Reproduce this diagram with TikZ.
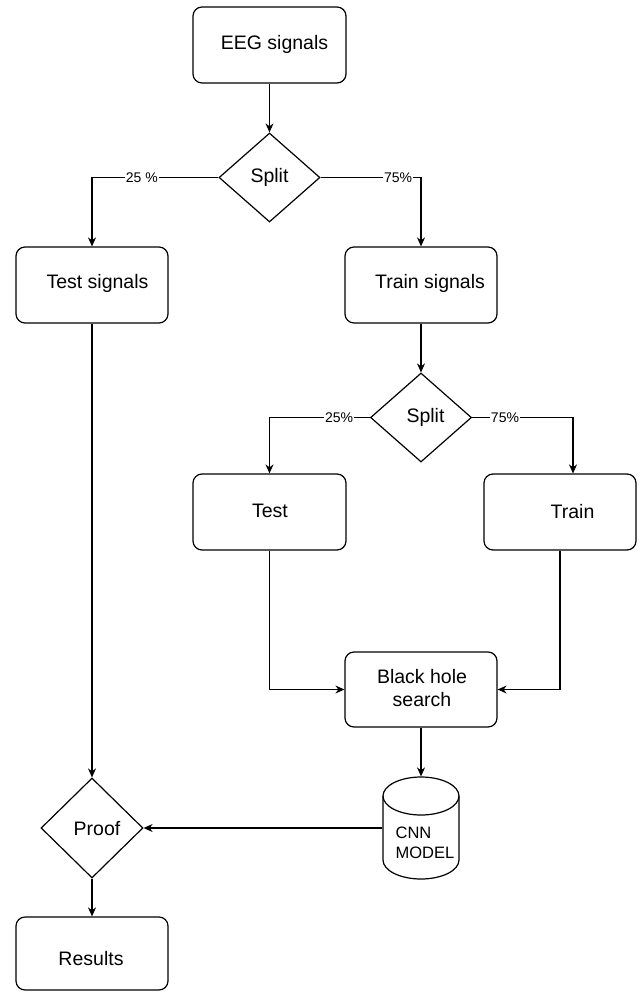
\documentclass[tikz,border=0pt]{standalone}
\usepackage{fontspec}
\setmainfont{Liberation Sans}
\usetikzlibrary{shapes.geometric,arrows.meta}
\begin{document}
\begin{tikzpicture}[x=1pt,y=-1pt,
  line width=1.2pt,
  box/.style={draw, rounded corners=9pt, minimum width=152pt, minimum height=76pt, inner sep=0pt},
  dia/.style={draw, diamond, inner sep=0pt, minimum width=101pt, minimum height=89pt},
  txt/.style={font=\fontsize{19.5}{23}\selectfont, inner sep=0pt, align=center},
  small/.style={font=\fontsize{16.5}{20}\selectfont, inner sep=0pt, align=left, anchor=west},
  lbl/.style={font=\fontsize{14}{16}\selectfont, fill=white, inner sep=1pt},
  arr/.style={-{Stealth[length=9pt,width=8pt]}},
]
\fill[white] (0,0) rectangle (640,992);
\useasboundingbox (0,0) rectangle (640,992);

% shapes
\node[box, minimum width=153pt] (eeg) at (269.5,45) {};
\node[dia] (s1) at (269.5,177.5) {};
\node[box] (tsig) at (92,285) {};
\node[box] (trsig) at (421,285) {};
\node[dia] (s2) at (421,417.5) {};
\node[box, minimum width=153pt] (te) at (269.5,512) {};
\node[box] (tr) at (560,512) {};
\node[box, minimum height=75pt] (bh) at (421,689.5) {};
\node[dia, minimum width=102pt, minimum height=100pt] (pf) at (92,828) {};
\node[box, minimum height=73pt] (res) at (92,953.5) {};
\node[minimum width=76pt, minimum height=102pt, inner sep=0pt] (cnn) at (421,828) {};
\draw[fill=white] (383,796) -- (383,860) arc[start angle=180, end angle=360, x radius=38pt, y radius=19pt] -- (459,796);
\draw (421,796) ellipse[x radius=38pt, y radius=19pt];

% texts
\node[txt] (eegT) at (274.5,44) {EEG signals};
\node[txt] (s1T) at (269.5,177) {Split};
\node[txt] (tsigT) at (97.5,283) {Test signals};
\node[txt] (trsigT) at (430,283) {Train signals};
\node[txt] (s2T) at (425.5,417) {Split};
\node[txt] (teT) at (270,511) {Test};
\node[txt] (trT) at (572.5,512) {Train};
\node[txt] (bhT) at (422,688.5) {Black hole\\search};
\node[small] (cnnT) at (395,843) {CNN\\MODEL};
\node[txt] (pfT) at (97,829) {Proof};
\node[txt] (resT) at (91,959) {Results};

% connectors
\draw[arr] (eeg.south) -- (s1.north);
\draw[arr] (s1.west) -| node[lbl, pos=0.303] (l1) {25 \%} (tsig.north);
\draw[arr] (s1.east) -| node[lbl, pos=0.386] (l2) {75\%} (trsig.north);
\draw[arr] (trsig.south) -- (s2.north);
\draw[arr] (s2.west) -| node[lbl, pos=0.153] (l3) {25\%} (te.north);
\draw[arr] (s2.east) -| node[lbl, pos=0.163] (l4) {75\%} ([xshift=13pt]tr.north);
\draw[arr] (te.south) |- (bh.west);
\draw[arr] (tr.south) |- (bh.east);
\draw[arr] (bh.south) -- (cnn.north);
\draw[arr] (cnn.west) -- (pf.east);
\draw[arr] (tsig.south) -- (pf.north);
\draw[arr] (pf.south) -- (res.north);
\end{tikzpicture}
\end{document}
